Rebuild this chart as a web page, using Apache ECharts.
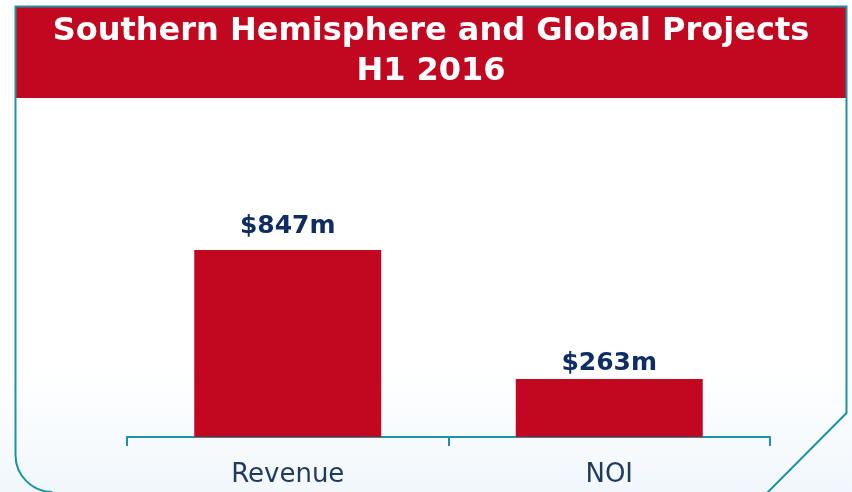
<!DOCTYPE html>
<html>
<head>
<meta charset="utf-8">
<script src="https://cdn.jsdelivr.net/npm/echarts@6/dist/echarts.min.js"></script>
<style>
  html, body { margin: 0; padding: 0; background: #fff; }
  #chart { width: 852px; height: 492px; }
</style>
</head>
<body>
<div id="chart"></div>
<script>
// chart data
var categories = ['Revenue', 'NOI'];
var values = [847, 263];
var valueLabels = ['$847m', '$263m'];
var titleLines = ['Southern Hemisphere and Global Projects', 'H1 2016'];

var RED = '#c20820';
var TEAL = '#1a93a3';
var NAVY = '#102d63';
// gap between each bar and its value label, as in the slide
var labelGaps = [11, 3];

var chart = echarts.init(document.getElementById('chart'));

function drawChart() {
  var barData = values.map(function (v, i) {
    return { value: v, label: { distance: labelGaps[i] } };
  });

  var option = {
    animation: false,
    backgroundColor: {
      type: 'linear', x: 0, y: 0, x2: 0, y2: 1,
      colorStops: [
        { offset: 0, color: '#ffffff' },
        { offset: 0.75, color: '#ffffff' },
        { offset: 1, color: '#f1f7fc' }
      ]
    },
    graphic: [
      {
        type: 'rect',
        shape: { x: 16, y: 7, width: 830, height: 91 },
        style: { fill: RED },
        z: 1
      },
      // frame: straight edges
      {
        type: 'polyline',
        shape: {
          points: [[767, 493], [846.5, 413], [846.5, 6.5], [15.5, 6.5], [15.5, 455]]
        },
        style: { fill: null, stroke: TEAL, lineWidth: 2 },
        z: 2
      },
      // frame: rounded bottom-left corner
      {
        type: 'arc',
        shape: { cx: 52.5, cy: 455, r: 37, startAngle: Math.PI / 2, endAngle: Math.PI, clockwise: true },
        style: { fill: null, stroke: TEAL, lineWidth: 2 },
        z: 2
      },
      {
        type: 'text',
        x: 431,
        y: 12,
        style: {
          text: titleLines.join('\n'),
          fill: '#ffffff',
          font: 'bold 32px "DejaVu Sans"',
          lineHeight: 40,
          align: 'center',
          verticalAlign: 'top'
        },
        z: 3
      }
    ],
    grid: { left: 127, right: 82, top: 106, bottom: 55 },
    xAxis: {
      type: 'category',
      data: categories,
      axisLine: { lineStyle: { color: TEAL, width: 2 } },
      axisTick: { show: true, length: 9, lineStyle: { color: TEAL, width: 2 } },
      axisLabel: {
        margin: 25,
        color: '#1e3a5f',
        fontSize: 26,
        fontFamily: 'DejaVu Sans'
      }
    },
    yAxis: {
      type: 'value',
      min: 0,
      max: 1500,
      show: false,
      splitLine: { show: false }
    },
    series: [
      {
        type: 'bar',
        data: barData,
        barWidth: 187,
        itemStyle: { color: RED },
        label: {
          show: true,
          position: 'top',
          color: NAVY,
          fontSize: 25,
          fontWeight: 'bold',
          fontFamily: 'DejaVu Sans',
          formatter: function (p) { return valueLabels[p.dataIndex]; }
        }
      }
    ]
  };
  chart.setOption(option);
}

drawChart();
</script>
</body>
</html>
